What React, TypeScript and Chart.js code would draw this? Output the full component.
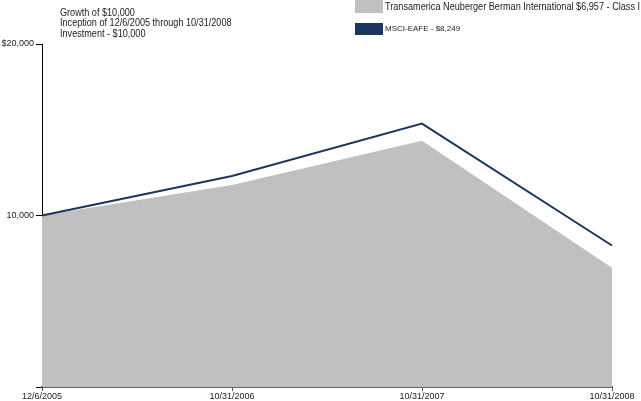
import React, { useEffect, useRef } from "react";
import { Chart, registerables } from "chart.js";

Chart.register(...registerables);

const categories = ["12/6/2005", "10/31/2006", "10/31/2007", "10/31/2008"];
const fundValues = [10000, 11780, 14360, 6957];
const indexValues = [10000, 12300, 15360, 8249];
const titleLines = ["Growth of $10,000", "Inception of 12/6/2005 through 10/31/2008", "Investment - $10,000"];
const fundLabel = "Transamerica Neuberger Berman International $6,957 - Class I";
const indexLabel = "MSCI-EAFE - $8,249";

const GRAY = "#C1BFC0";
const NAVY = "#1C365F";
const FONT = "'Liberation Sans', Arial, sans-serif";

function squeezedText(ctx: any, text: string, x: number, y: number, sx: number) {
  ctx.save();
  ctx.translate(x, y);
  ctx.scale(sx, 1);
  ctx.fillText(text, 0, 0);
  ctx.restore();
}

const overlay = {
  id: "overlay",
  afterDraw(chart: any) {
    const ctx = chart.ctx;
    ctx.save();
    ctx.fillStyle = "#222";
    ctx.font = `10px ${FONT}`;
    ctx.textBaseline = "alphabetic";
    ctx.textAlign = "left";
    titleLines.forEach((t, i) => squeezedText(ctx, t, 60, 15.5 + i * 10.6, 0.91));
    // legend
    ctx.fillStyle = GRAY;
    ctx.fillRect(355, 0, 28, 13);
    ctx.fillStyle = NAVY;
    ctx.fillRect(355, 23, 28, 12);
    ctx.fillStyle = "#222";
    ctx.textBaseline = "middle";
    ctx.font = `10.5px ${FONT}`;
    squeezedText(ctx, fundLabel, 385, 7, 0.87);
    ctx.font = `8px ${FONT}`;
    ctx.fillText(indexLabel, 385, 28.5);
    ctx.restore();
  },
};

export default function App() {
  const ref = useRef<HTMLCanvasElement>(null);
  useEffect(() => {
    const chart = new Chart(ref.current!, {
      type: "line",
      data: {
        labels: categories,
        datasets: [
          {
            label: indexLabel,
            data: indexValues,
            borderColor: NAVY,
            borderWidth: 2,
            pointRadius: 0,
            fill: false,
            tension: 0,
            order: 0,
          },
          {
            label: fundLabel,
            data: fundValues,
            borderColor: GRAY,
            backgroundColor: GRAY,
            borderWidth: 0,
            pointRadius: 0,
            fill: "origin",
            tension: 0,
            order: 1,
          },
        ],
      },
      options: {
        animation: false,
        responsive: false,
        maintainAspectRatio: false,
        layout: { padding: { top: 44, right: 29, left: 0, bottom: 0 } },
        plugins: { legend: { display: false }, tooltip: { enabled: false } },
        scales: {
          x: {
            type: "category",
            offset: false,
            grid: { drawOnChartArea: false, drawTicks: true, tickLength: 4, color: "#555" },
            border: { color: "#666", width: 2 },
            ticks: {
              color: "#222",
              font: { family: FONT, size: 9 },
              padding: 0,
              maxRotation: 0,
              autoSkip: false,
            },
            afterFit(scale: any) {
              scale.height = 14;
            },
          },
          y: {
            min: 0,
            max: 20000,
            grid: { drawOnChartArea: false, drawTicks: true, tickLength: 6, color: "#000" },
            border: { color: "#000", width: 1 },
            ticks: {
              stepSize: 10000,
              color: "#222",
              font: { family: FONT, size: 9 },
              padding: 2,
              callback: (v: any) => (v === 20000 ? "$20,000" : v === 10000 ? "10,000" : ""),
            },
            afterFit(scale: any) {
              scale.width = 42;
            },
          },
        },
      },
      plugins: [overlay],
    });
    return () => chart.destroy();
  }, []);
  return (
    <div style={{ position: "absolute", left: 0, top: 0, width: 641, height: 401, background: "#fff" }}>
      <canvas ref={ref} width={641} height={401} style={{ width: 641, height: 401, display: "block" }} />
    </div>
  );
}
